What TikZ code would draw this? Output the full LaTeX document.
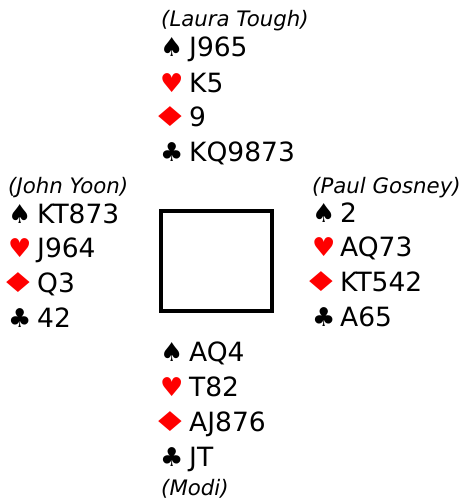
\documentclass[tikz,border=0pt]{standalone}
\usepackage{fontspec}
\setmainfont{DejaVu Sans}
\newfontfamily\suitfont{DejaVu Sans}
\definecolor{suitred}{RGB}{255,0,0}
\newcommand{\broaddiamond}{\scalebox{1.6}[1.05]{♦}}
\begin{document}
\begin{tikzpicture}[x=1pt,y=-1pt,
  player/.style={anchor=base west,inner sep=0pt,font=\fontsize{21.3}{24}\selectfont\itshape},
  holding/.style={anchor=base west,inner sep=0pt,font=\fontsize{26.5}{30}\selectfont},
  suitsym/.style={anchor=base west,inner sep=0pt,font=\fontsize{26}{30}\suitfont},
  redsuit/.style={suitsym,text=suitred},
  diamondsym/.style={redsuit,anchor=base},
  table/.style={draw=black,line width=4pt}]
\useasboundingbox (0,0) rectangle (465,500);
% North
\node[player] (nname) at (161,27) {(Laura Tough)};
\node[suitsym] (ns) at (160,57) {♠};
\node[holding] (nsh) at (189,57) {J965};
\node[redsuit] (nh) at (160,93) {♥};
\node[holding] (nhh) at (189,93) {K5};
\node[diamondsym] (nd) at (170,127) {\broaddiamond};
\node[holding] (ndh) at (189,127) {9};
\node[suitsym] (nc) at (160,161) {♣};
\node[holding] (nch) at (189,161) {KQ9873};
% West
\node[player] (wname) at (8,193) {(John Yoon)};
\node[suitsym] (ws) at (8,223) {♠};
\node[holding] (wsh) at (37,223) {KT873};
\node[redsuit] (wh) at (8,257) {♥};
\node[holding] (whh) at (37,257) {J964};
\node[diamondsym] (wd) at (18,292) {\broaddiamond};
\node[holding] (wdh) at (37,292) {Q3};
\node[suitsym] (wc) at (8,327) {♣};
\node[holding] (wch) at (37,327) {42};
% East
\node[player] (ename) at (312,193) {(Paul Gosney)};
\node[suitsym] (es) at (312,222) {♠};
\node[holding] (esh) at (340,222) {2};
\node[redsuit] (eh) at (312,256) {♥};
\node[holding] (ehh) at (340,256) {AQ73};
\node[diamondsym] (ed) at (321,291) {\broaddiamond};
\node[holding] (edh) at (340,291) {KT542};
\node[suitsym] (ec) at (312,326.5) {♣};
\node[holding] (ech) at (340,326.5) {A65};
% South
\node[suitsym] (ss) at (160,361) {♠};
\node[holding] (ssh) at (189,361) {AQ4};
\node[redsuit] (sh) at (160,396) {♥};
\node[holding] (shh) at (189,396) {T82};
\node[diamondsym] (sd) at (170,431) {\broaddiamond};
\node[holding] (sdh) at (189,431) {AJ876};
\node[suitsym] (sc) at (160,466) {♣};
\node[holding] (sch) at (189,466) {JT};
\node[player] (sname) at (161,495) {(Modi)};
% Table
\draw[table] (161,211) rectangle (272,311);
\end{tikzpicture}
\end{document}
